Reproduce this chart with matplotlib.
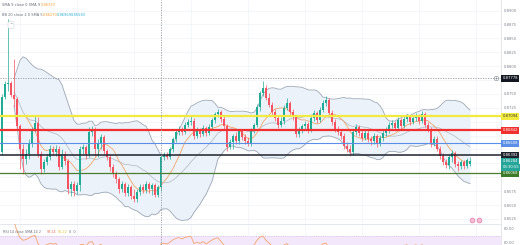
import matplotlib
matplotlib.use("Agg")
import matplotlib.pyplot as plt
import numpy as np
import pandas as pd

# ---------------- data ----------------
opens = [
    0.86446, 0.87436, 0.87670, 0.87688, 0.87472, 0.87400, 0.86914, 0.86500, 0.86320, 0.86410,
    0.86590, 0.86860, 0.86968, 0.86410, 0.86140, 0.86266, 0.86356, 0.86500, 0.86446, 0.86500,
    0.86176, 0.86410, 0.86284, 0.85780, 0.85870, 0.85744, 0.85852, 0.86500, 0.86536, 0.86410,
    0.86806, 0.86860, 0.86500, 0.86590, 0.86716, 0.86464, 0.86356, 0.86176, 0.86050, 0.85960,
    0.85780, 0.85870, 0.85708, 0.85816, 0.85654, 0.85600, 0.85726, 0.85816, 0.85762, 0.85870,
    0.85780, 0.85852, 0.85672, 0.85816, 0.86356, 0.86392, 0.86356, 0.86500, 0.86680, 0.86806,
    0.86860, 0.86806, 0.86932, 0.86986, 0.87004, 0.86734, 0.86824, 0.86770, 0.86878, 0.86788,
    0.86896, 0.87022, 0.87130, 0.87166, 0.87040, 0.86914, 0.86536, 0.86626, 0.86734, 0.86644,
    0.86824, 0.86716, 0.86644, 0.86608, 0.86842, 0.86932, 0.87256, 0.87508, 0.87598, 0.87418,
    0.87292, 0.87166, 0.87058, 0.86932, 0.87004, 0.87238, 0.87328, 0.87166, 0.87076, 0.86770,
    0.86842, 0.86914, 0.86950, 0.86842, 0.87058, 0.87148, 0.87022, 0.87202, 0.87328, 0.87382,
    0.87148, 0.86986, 0.86860, 0.86806, 0.86734, 0.86554, 0.86500, 0.86446, 0.86806, 0.86896,
    0.86788, 0.86698, 0.86788, 0.86680, 0.86644, 0.86734, 0.86590, 0.86698, 0.86788, 0.86842,
    0.86932, 0.86968, 0.86878, 0.87022, 0.86914, 0.87040, 0.87076, 0.86986, 0.87058, 0.87094,
    0.87004, 0.87130, 0.86932, 0.86842, 0.86590, 0.86680, 0.86500, 0.86374, 0.86266, 0.86212,
    0.86356, 0.86428, 0.86230, 0.86194, 0.86266, 0.86194, 0.86230]
highs = [
    0.87490, 0.87724, 0.88840, 0.87724, 0.88120, 0.87436, 0.86950, 0.86590, 0.86500, 0.86680,
    0.86896, 0.87094, 0.87076, 0.86464, 0.86320, 0.86410, 0.86572, 0.86554, 0.86572, 0.86554,
    0.86500, 0.86464, 0.86320, 0.85924, 0.85924, 0.85906, 0.86554, 0.86590, 0.86572, 0.86896,
    0.86914, 0.86896, 0.86680, 0.86770, 0.86752, 0.86500, 0.86410, 0.86230, 0.86104, 0.85996,
    0.85924, 0.85906, 0.85870, 0.85852, 0.85780, 0.85780, 0.85870, 0.85870, 0.85924, 0.85906,
    0.85888, 0.85888, 0.85852, 0.86410, 0.86446, 0.86446, 0.86536, 0.86716, 0.86860, 0.86914,
    0.86896, 0.86986, 0.87040, 0.87094, 0.87058, 0.86896, 0.86878, 0.86932, 0.86914, 0.86950,
    0.87058, 0.87166, 0.87220, 0.87202, 0.87094, 0.86950, 0.86680, 0.86770, 0.86806, 0.86860,
    0.86860, 0.86770, 0.86716, 0.86878, 0.86968, 0.87310, 0.87544, 0.87724, 0.87652, 0.87508,
    0.87346, 0.87220, 0.87112, 0.87076, 0.87292, 0.87418, 0.87364, 0.87220, 0.87112, 0.86896,
    0.86950, 0.87004, 0.86986, 0.87112, 0.87202, 0.87184, 0.87256, 0.87382, 0.87454, 0.87418,
    0.87202, 0.87040, 0.86914, 0.86860, 0.86788, 0.86626, 0.86572, 0.86860, 0.86950, 0.86932,
    0.86842, 0.86842, 0.86842, 0.86734, 0.86788, 0.86770, 0.86752, 0.86842, 0.86896, 0.86986,
    0.87022, 0.87004, 0.87076, 0.87058, 0.87094, 0.87130, 0.87112, 0.87112, 0.87148, 0.87130,
    0.87184, 0.87166, 0.86986, 0.86896, 0.86734, 0.86734, 0.86554, 0.86428, 0.86320, 0.86410,
    0.86482, 0.86464, 0.86284, 0.86302, 0.86302, 0.86338, 0.86356]
lows = [
    0.86392, 0.87400, 0.87544, 0.87436, 0.87256, 0.86860, 0.86140, 0.86050, 0.86230, 0.86320,
    0.86536, 0.86806, 0.86356, 0.86050, 0.86086, 0.86212, 0.86302, 0.86392, 0.86374, 0.86122,
    0.86140, 0.86212, 0.85690, 0.85654, 0.85654, 0.85690, 0.85744, 0.86410, 0.86320, 0.86356,
    0.86734, 0.86374, 0.86356, 0.86500, 0.86410, 0.86302, 0.86104, 0.85996, 0.85888, 0.85708,
    0.85726, 0.85654, 0.85654, 0.85600, 0.85546, 0.85546, 0.85672, 0.85708, 0.85708, 0.85708,
    0.85672, 0.85636, 0.85636, 0.85744, 0.86302, 0.86320, 0.86320, 0.86446, 0.86626, 0.86752,
    0.86752, 0.86770, 0.86896, 0.86932, 0.86680, 0.86698, 0.86716, 0.86734, 0.86734, 0.86752,
    0.86842, 0.86968, 0.87076, 0.86986, 0.86860, 0.86464, 0.86500, 0.86500, 0.86590, 0.86590,
    0.86662, 0.86590, 0.86554, 0.86554, 0.86788, 0.86896, 0.87184, 0.87454, 0.87382, 0.87256,
    0.87112, 0.87004, 0.86878, 0.86896, 0.86950, 0.87202, 0.87112, 0.87022, 0.86716, 0.86716,
    0.86788, 0.86842, 0.86788, 0.86806, 0.87004, 0.86968, 0.86986, 0.87166, 0.87274, 0.87094,
    0.86932, 0.86806, 0.86752, 0.86680, 0.86500, 0.86446, 0.86374, 0.86392, 0.86752, 0.86734,
    0.86644, 0.86662, 0.86626, 0.86572, 0.86590, 0.86536, 0.86554, 0.86644, 0.86734, 0.86788,
    0.86878, 0.86842, 0.86842, 0.86860, 0.86878, 0.86986, 0.86932, 0.86950, 0.87004, 0.86950,
    0.86968, 0.86896, 0.86806, 0.86536, 0.86554, 0.86464, 0.86320, 0.86212, 0.86158, 0.86140,
    0.86266, 0.86176, 0.86104, 0.86140, 0.86140, 0.86158, 0.86194]
closes = [
    0.87436, 0.87670, 0.87688, 0.87472, 0.87400, 0.86914, 0.86500, 0.86320, 0.86410, 0.86590,
    0.86860, 0.86968, 0.86410, 0.86140, 0.86266, 0.86356, 0.86500, 0.86446, 0.86500, 0.86176,
    0.86410, 0.86284, 0.85780, 0.85870, 0.85744, 0.85852, 0.86500, 0.86536, 0.86410, 0.86806,
    0.86860, 0.86500, 0.86590, 0.86716, 0.86464, 0.86356, 0.86176, 0.86050, 0.85960, 0.85780,
    0.85870, 0.85708, 0.85816, 0.85654, 0.85600, 0.85726, 0.85816, 0.85762, 0.85870, 0.85780,
    0.85852, 0.85672, 0.85816, 0.86356, 0.86392, 0.86356, 0.86500, 0.86680, 0.86806, 0.86860,
    0.86806, 0.86932, 0.86986, 0.87004, 0.86734, 0.86824, 0.86770, 0.86878, 0.86788, 0.86896,
    0.87022, 0.87130, 0.87166, 0.87040, 0.86914, 0.86536, 0.86626, 0.86734, 0.86644, 0.86824,
    0.86716, 0.86644, 0.86608, 0.86842, 0.86932, 0.87256, 0.87508, 0.87598, 0.87418, 0.87292,
    0.87166, 0.87058, 0.86932, 0.87004, 0.87238, 0.87328, 0.87166, 0.87076, 0.86770, 0.86842,
    0.86914, 0.86950, 0.86842, 0.87058, 0.87148, 0.87022, 0.87202, 0.87328, 0.87382, 0.87148,
    0.86986, 0.86860, 0.86806, 0.86734, 0.86554, 0.86500, 0.86446, 0.86806, 0.86896, 0.86788,
    0.86698, 0.86788, 0.86680, 0.86644, 0.86734, 0.86590, 0.86698, 0.86788, 0.86842, 0.86932,
    0.86968, 0.86878, 0.87022, 0.86914, 0.87040, 0.87076, 0.86986, 0.87058, 0.87094, 0.87004,
    0.87130, 0.86932, 0.86842, 0.86590, 0.86680, 0.86500, 0.86374, 0.86266, 0.86212, 0.86356,
    0.86428, 0.86230, 0.86194, 0.86266, 0.86194, 0.86302, 0.86284]

assert len(opens) == len(highs) == len(lows) == len(closes)

price_ticks = [0.8525, 0.8550, 0.8575, 0.8600, 0.8625, 0.8650, 0.8675, 0.8700,
               0.8725, 0.8750, 0.8775, 0.8800, 0.8825, 0.8850, 0.8875, 0.8900]
level_prices = [0.87094, 0.86842, 0.86608, 0.86392, 0.86068]
level_colors = ['#f3ea3f', '#f0302e', '#5b8ee6', '#1e222d', '#4d7c2e']
level_box_colors = ['#f3ea3f', '#f0302e', '#5b8ee6', '#1e222d', '#3d7a2a']
level_text_colors = ['#333333', 'white', 'white', 'white', 'white']
level_widths = [1.6, 1.6, 0.8, 1.1, 0.9]
crosshair_price = 0.87778
crosshair_index = 53
last_price = 0.86284
countdown = "03:30:55"
rsi_ticks = [60, 80]

header_sma = "0.86329"
header_bb = ["0.86270", "0.86969", "0.85583"]
header_rsi = ["59.14", "56.20"]

sma_len, bb_len, bb_mult, rsi_len = 9, 20, 2, 14

# ---------------- indicators ----------------
s = pd.Series(closes)
sma9 = s.rolling(sma_len).mean()
basis = s.rolling(bb_len, min_periods=5).mean()
dev = s.rolling(bb_len, min_periods=5).std(ddof=0)
upper = basis + bb_mult * dev
lower = basis - bb_mult * dev
delta = s.diff()
gain = delta.clip(lower=0)
loss = -delta.clip(upper=0)
ag = gain.ewm(alpha=1 / rsi_len, adjust=False).mean()
al = loss.ewm(alpha=1 / rsi_len, adjust=False).mean()
rsi = 100 - 100 / (1 + ag / al.replace(0, np.nan))

# ---------------- figure ----------------
W, H = 520, 245
PW = 501
PX = 0.00018          # price per pixel of the main pane
fig = plt.figure(figsize=(W / 100, H / 100), dpi=100)
fig.patch.set_facecolor('white')
ax = fig.add_axes([0, 22 / H, PW / W, 223 / H])
rax = fig.add_axes([0, 0, PW / W, 21 / H])

top = 0.89190
ax.set_ylim(top - 223 * PX, top)
xl = (-2 / 3, (PW - 2) / 3)
ax.set_xlim(*xl)
rax.set_xlim(*xl)
rax.set_ylim(57, 87)

x = np.arange(len(closes))
o = np.array(opens); h = np.array(highs); l = np.array(lows); c = np.array(closes)
up = c >= o
col = np.where(up, '#22ab94', '#f7525f')

# grid
for t in price_ticks:
    ax.axhline(t, color='#f0f3fa', lw=0.5, zorder=0)
vgrid = [6, 25, 44, 63, 82, 101, 120, 139, 158]
for v in vgrid:
    ax.axvline(v, color='#f0f3fa', lw=0.5, zorder=0)
    rax.axvline(v, color='#f0f3fa', lw=0.5, zorder=0)

# Bollinger bands
ax.fill_between(x, lower, upper, color='#ebf2fa', lw=0, zorder=1)
ax.plot(x, upper, color='#9ea8b4', lw=0.6, zorder=2)
ax.plot(x, lower, color='#9ea8b4', lw=0.6, zorder=2)
ax.plot(x, basis, color='#b4bcc6', lw=0.55, zorder=2)
ax.plot(x, sma9, color='#f2a66a', lw=0.6, zorder=2)

# candles
ax.vlines(x, l, h, colors=col, lw=0.5, zorder=3)
body = np.maximum(np.abs(c - o), 0.00004)
ax.bar(x, body, bottom=np.minimum(o, c), width=0.66, color=col, lw=0, zorder=3)

# level lines
for p, lc, lw in zip(level_prices, level_colors, level_widths):
    ax.axhline(p, color=lc, lw=lw, zorder=4)

# crosshair
ax.axhline(crosshair_price, color='#9598a1', lw=0.6, ls=(0, (1.5, 1.5)), zorder=5)
ax.axvline(crosshair_index, color='#9598a1', lw=0.6, ls=(0, (1.5, 1.5)), zorder=5)
rax.axvline(crosshair_index, color='#9598a1', lw=0.6, ls=(0, (1.5, 1.5)), zorder=5)

# axes styling
FS = 2.7
for a in (ax, rax):
    a.yaxis.tick_right()
    a.tick_params(axis='y', length=0, pad=2.2, labelsize=FS, labelcolor='#80838d')
    a.tick_params(axis='x', bottom=False, labelbottom=False)
    for sp in ('left', 'top', 'bottom'):
        a.spines[sp].set_visible(False)
    a.spines['right'].set_color('#e0e3eb')
    a.spines['right'].set_linewidth(0.6)
    a.set_facecolor('white')

# price labels hidden where a coloured label box sits on the scale
box_prices = level_prices + [last_price, last_price - 6 * PX, crosshair_price]
shown_ticks = [t for t in price_ticks
               if min(abs(t - b) for b in box_prices) / PX >= 6.5]
ax.set_yticks(shown_ticks)
ax.set_yticklabels([f"{t:.4f}" for t in shown_ticks])
rax.set_yticks(rsi_ticks)
rax.set_yticklabels([f"{t:.2f}" for t in rsi_ticks])
rax.spines['top'].set_visible(True)
rax.spines['top'].set_color('#e0e3eb')
rax.spines['top'].set_linewidth(0.6)


def box(a, y, txt, fc, tc):
    a.text(1.003, y, txt, transform=a.get_yaxis_transform(), ha='left', va='center',
           fontsize=FS, color=tc, clip_on=False, zorder=20,
           bbox=dict(boxstyle='square,pad=0.35', fc=fc, ec='none'))


for p, bc, tc in zip(level_prices, level_box_colors, level_text_colors):
    box(ax, p, f"{p:.5f}", bc, tc)
box(ax, last_price, f"{last_price:.5f}", '#26a69a', 'white')
box(ax, last_price - 6 * PX, countdown, '#26a69a', 'white')
box(ax, crosshair_price, f"{crosshair_price:.5f}", '#131722', 'white')
yt = ax.get_yaxis_transform()
ax.plot([0.991], [crosshair_price], transform=yt, marker='o', ms=3.2, mfc='white',
        mec='#9598a1', mew=0.5, clip_on=False, zorder=21)
ax.plot([0.991], [crosshair_price], transform=yt, marker='+', ms=2.0, mec='#787b86',
        mew=0.5, clip_on=False, zorder=22)

# small pink icon
icon_y = top - 220 * PX
ax.plot([156.7, 158.9], [icon_y, icon_y], ls='none', marker='o', ms=3.4,
        mfc='#f6bfd6', mec='#e07aa6', mew=0.5, zorder=6, clip_on=False)

# RSI pane
rax.axhspan(30, 70, color='#f3e8fb', lw=0, zorder=0)
rax.axhline(70, color='#c9b8dd', lw=0.4, ls=(0, (2, 2)), zorder=1)
rax.plot(x, rsi, color='#f5a46a', lw=0.6, zorder=3)


# header texts
def ft(xpx, ypx, txt, color, size=2.6, **kw):
    fig.text(xpx / W, 1 - ypx / H, txt, color=color, fontsize=size, va='center', ha='left', **kw)


ft(2, 5, "SMA 9 close 0 SMA 9", '#6a6d78')
ft(41, 5, header_sma, '#f5a13a')
ft(2, 15, "BB 20 close 2 0 SMA 5", '#6a6d78')
ft(43, 15, header_bb[0], '#f39b33')
ft(57, 15, header_bb[1], '#2aaed2')
ft(71, 15, header_bb[2], '#2aaed2')
fig.text(11 / W, 1 - 25 / H, "^", fontsize=2.8, color='#6a6d78', ha='center', va='center',
         bbox=dict(boxstyle='round,pad=0.35,rounding_size=0.3', fc='white', ec='#d1d4dc', lw=0.4))
ft(3, 232, "RSI 14 close SMA 14 2", '#6a6d78', size=2.4)
ft(47, 232, header_rsi[0], '#e8735a', size=2.4)
ft(58, 232, header_rsi[1], '#e9c23c', size=2.4)
ft(69, 232, "0  0", '#6a6d78', size=2.4)

fig.savefig("out.png", dpi=100, facecolor='white')
